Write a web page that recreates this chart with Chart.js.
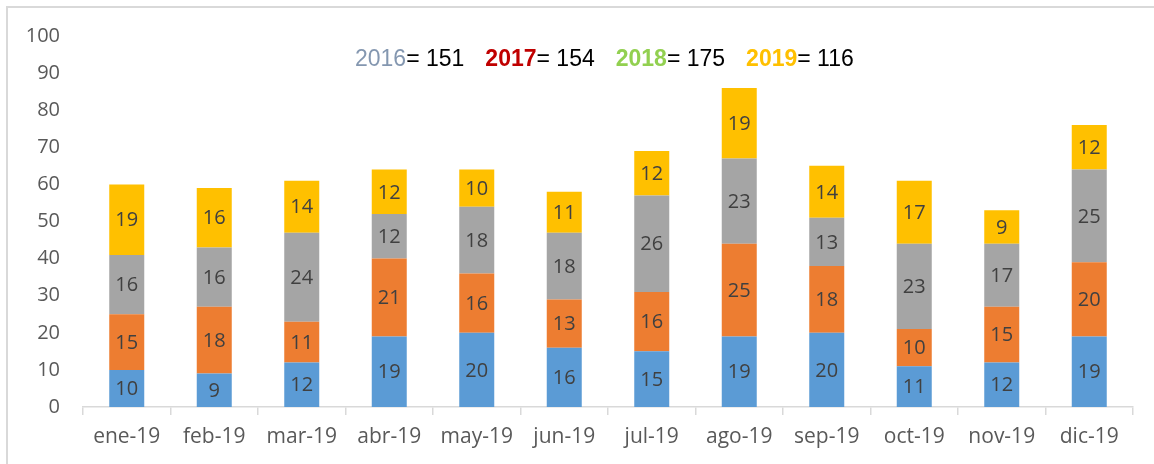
<!DOCTYPE html>
<html>
<head>
<meta charset="utf-8">
<script src="https://cdn.jsdelivr.net/npm/chart.js@4/dist/chart.umd.min.js"></script>
<style>
  html, body { margin: 0; padding: 0; background: #fff; overflow: hidden; }
  .frame { position: absolute; left: 6px; top: 6px; width: 1200px; height: 500px; border: 2px solid #d9d9d9; }
  .wrap { position: absolute; left: 0; top: 0; width: 1154px; height: 464px; }
</style>
</head>
<body>
<div class="frame"></div>
<div class="wrap"><canvas id="chart"></canvas></div>
<script>
const months = ['ene-19', 'feb-19', 'mar-19', 'abr-19', 'may-19', 'jun-19',
                'jul-19', 'ago-19', 'sep-19', 'oct-19', 'nov-19', 'dic-19'];
const serie1 = [10, 9, 12, 19, 20, 16, 15, 19, 20, 11, 12, 19];
const serie2 = [15, 18, 11, 21, 16, 13, 16, 25, 18, 10, 15, 20];
const serie3 = [16, 16, 24, 12, 18, 18, 26, 23, 13, 23, 17, 25];
const serie4 = [19, 16, 14, 12, 10, 11, 12, 19, 14, 17, 9, 12];

// texto de totales por año (arriba del grafico)
const totalYears = ['2016', '2017', '2018', '2019'];
const totalValues = [151, 154, 175, 116];
const totalColors = ['#8497b0', '#c00000', '#92d050', '#ffc000'];
const totalBold = [false, true, true, true];

const labelFont = '"Open Sans", sans-serif';

// etiquetas de valor dentro de cada segmento
const valueLabels = {
  id: 'valueLabels',
  afterDatasetsDraw(chart) {
    const ctx = chart.ctx;
    ctx.save();
    ctx.font = '20px ' + labelFont;
    ctx.fillStyle = '#404040';
    ctx.textAlign = 'center';
    ctx.textBaseline = 'middle';
    chart.data.datasets.forEach((ds, i) => {
      const meta = chart.getDatasetMeta(i);
      meta.data.forEach((bar, j) => {
        const yMid = (bar.y + bar.base) / 2;
        ctx.fillText(ds.data[j], bar.x, yMid + 1);
      });
    });
    ctx.restore();
  }
};

const yearTotals = {
  id: 'yearTotals',
  afterDraw(chart) {
    const ctx = chart.ctx;
    ctx.save();
    ctx.textBaseline = 'middle';
    ctx.textAlign = 'left';
    let x = 355;
    const y = 60;
    for (let i = 0; i < totalYears.length; i++) {
      ctx.font = (totalBold[i] ? 'bold ' : '') + '23px "Liberation Sans", Arial, sans-serif';
      ctx.fillStyle = totalColors[i];
      ctx.fillText(totalYears[i], x, y);
      x += ctx.measureText(totalYears[i]).width;
      ctx.font = '23px "Liberation Sans", Arial, sans-serif';
      ctx.fillStyle = '#000';
      const rest = '= ' + totalValues[i];
      ctx.fillText(rest, x, y);
      x += ctx.measureText(rest).width + 21;
    }
    ctx.restore();
  }
};

new Chart(document.getElementById('chart'), {
  type: 'bar',
  data: {
    labels: months,
    datasets: [
      { label: 'Serie1', data: serie1, backgroundColor: '#5b9bd5' },
      { label: 'Serie2', data: serie2, backgroundColor: '#ed7d31' },
      { label: 'Serie3', data: serie3, backgroundColor: '#a5a5a5' },
      { label: 'Serie4', data: serie4, backgroundColor: '#ffc000' }
    ]
  },
  options: {
    responsive: true,
    maintainAspectRatio: false,
    animation: false,
    events: [],
    datasets: { bar: { categoryPercentage: 1, barPercentage: 0.4, borderWidth: 0 } },
    layout: { padding: { top: 36, right: 21, bottom: 0, left: 0 } },
    plugins: { legend: { display: false }, tooltip: { enabled: false } },
    scales: {
      x: {
        stacked: true,
        grid: { offset: true, drawOnChartArea: false, drawTicks: true, tickLength: 8, color: '#d9d9d9', lineWidth: 1.5 },
        border: { display: true, color: '#d9d9d9', width: 1.5 },
        ticks: { color: '#595959', font: { family: labelFont, size: 21 }, padding: 9, maxRotation: 0 },
        afterFit(scale) { scale.height = 57; }
      },
      y: {
        stacked: true,
        min: 0,
        max: 100,
        grid: { display: false, drawTicks: false },
        border: { display: false },
        ticks: { stepSize: 10, color: '#595959', font: { family: labelFont, size: 20 }, padding: 23 },
        afterFit(scale) { scale.width = 83; }
      }
    }
  },
  plugins: [valueLabels, yearTotals]
});
</script>
</body>
</html>
